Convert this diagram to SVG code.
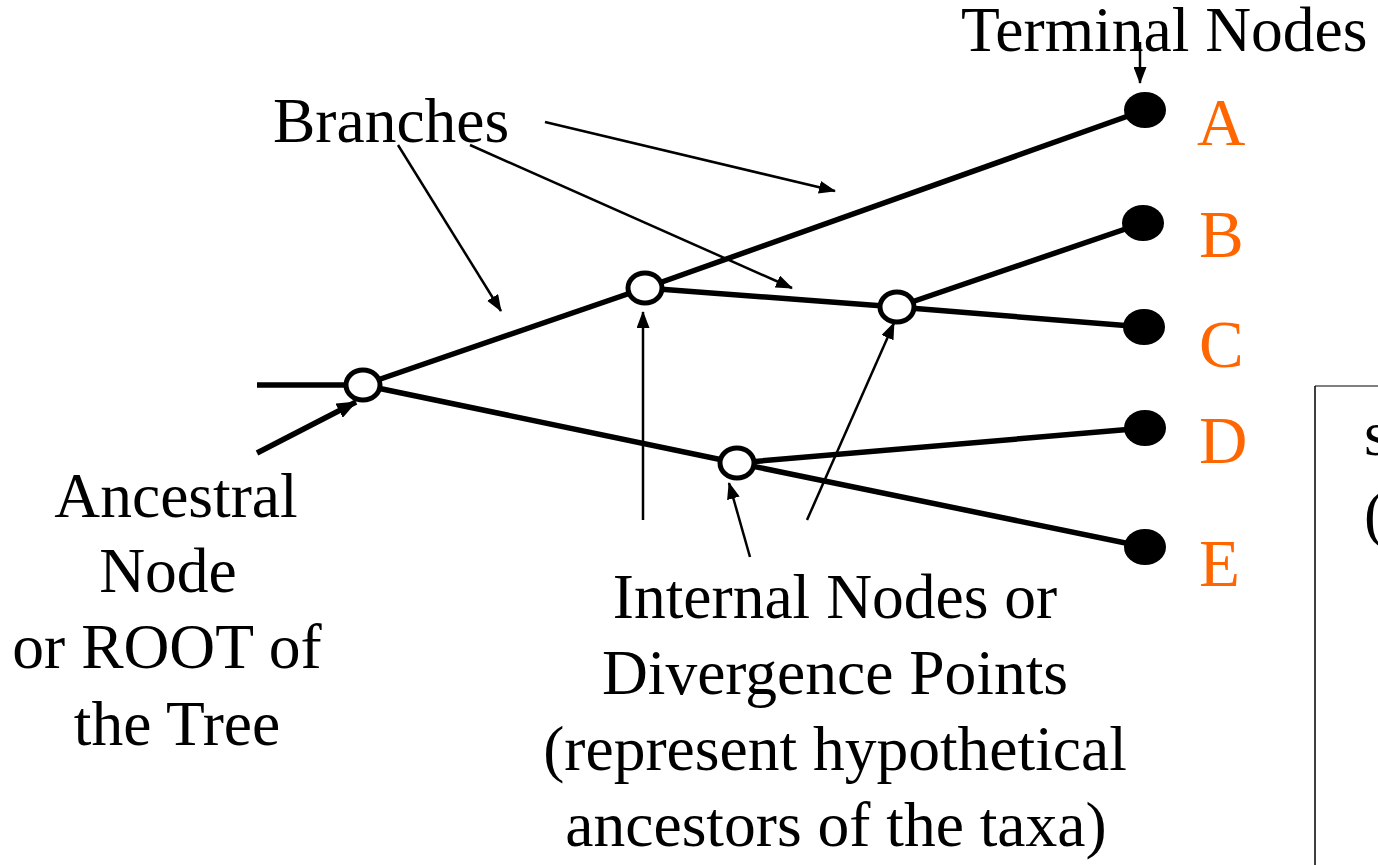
<svg xmlns="http://www.w3.org/2000/svg" width="1378" height="865" viewBox="0 0 1378 865">
<defs>
<style>
text{font-family:"Liberation Serif","Times New Roman",serif;font-size:63.5px;fill:#000}
.lbl{fill:#FF6600;font-size:67px}
.br{stroke:#000;stroke-width:5.5;fill:none;stroke-linecap:butt}
.th{stroke:#000;stroke-width:2.5;fill:none}
.open{fill:#fff;stroke:#000;stroke-width:5}
.term{fill:#000}
</style>
<marker id="ah" viewBox="0 0 17 13" refX="16" refY="6.5" markerWidth="17" markerHeight="13" markerUnits="userSpaceOnUse" orient="auto">
<path d="M0,0 L17,6.5 L0,13 Z" fill="#000"/>
</marker>
<marker id="ahb" viewBox="0 0 20 16" refX="19" refY="8" markerWidth="20" markerHeight="16" markerUnits="userSpaceOnUse" orient="auto">
<path d="M0,0 L20,8 L0,16 Z" fill="#000"/>
</marker>
</defs>
<rect width="1378" height="865" fill="#fff"/>

<g id="side-box">
<line x1="1315" y1="386" x2="1378" y2="386" stroke="#808080" stroke-width="2"/>
<line x1="1315" y1="386" x2="1315" y2="865" stroke="#000" stroke-width="1.5"/>
<text x="1364" y="455">s</text>
<text x="1364" y="535">(</text>
</g>

<g id="connectors">
<line class="br" x1="257" y1="385" x2="363" y2="385"/>
<line class="br" x1="363" y1="385" x2="645" y2="288"/>
<line class="br" x1="645" y1="288" x2="1145" y2="110"/>
<line class="br" x1="645" y1="288" x2="897" y2="307"/>
<line class="br" x1="897" y1="307" x2="1143" y2="223"/>
<line class="br" x1="897" y1="307" x2="1144" y2="327"/>
<line class="br" x1="363" y1="385" x2="737" y2="463"/>
<line class="br" x1="737" y1="463" x2="1145" y2="428"/>
<line class="br" x1="737" y1="463" x2="1145" y2="547"/>
<line class="th" x1="545" y1="122" x2="835" y2="191" marker-end="url(#ah)"/>
<line class="th" x1="470" y1="145" x2="792" y2="288" marker-end="url(#ah)"/>
<line class="th" x1="398" y1="145" x2="501" y2="311" marker-end="url(#ah)"/>
<line class="th" x1="1140" y1="42" x2="1140" y2="83" marker-end="url(#ah)"/>
<line class="br" x1="257" y1="453" x2="356" y2="402" marker-end="url(#ahb)"/>
<line class="th" x1="643" y1="520" x2="643" y2="312" marker-end="url(#ah)"/>
<line class="th" x1="750" y1="557" x2="729" y2="483" marker-end="url(#ah)"/>
<line class="th" x1="807" y1="520" x2="894" y2="323" marker-end="url(#ah)"/>
</g>

<g id="root"><ellipse class="open" cx="363" cy="385" rx="17" ry="15"/></g>
<g id="node1"><ellipse class="open" cx="645" cy="288" rx="17" ry="15"/></g>
<g id="node2"><ellipse class="open" cx="897" cy="307" rx="17" ry="15"/></g>
<g id="node3"><ellipse class="open" cx="737" cy="463" rx="17" ry="15"/></g>

<g id="taxon-A"><ellipse class="term" cx="1145" cy="110" rx="21" ry="18"/><text class="lbl" x="1197" y="145">A</text></g>
<g id="taxon-B"><ellipse class="term" cx="1143" cy="223" rx="21" ry="18"/><text class="lbl" x="1199" y="257">B</text></g>
<g id="taxon-C"><ellipse class="term" cx="1144" cy="327" rx="21" ry="18"/><text class="lbl" x="1199" y="367">C</text></g>
<g id="taxon-D"><ellipse class="term" cx="1145" cy="428" rx="21" ry="18"/><text class="lbl" x="1199" y="463">D</text></g>
<g id="taxon-E"><ellipse class="term" cx="1145" cy="547" rx="21" ry="18"/><text class="lbl" x="1199" y="586">E</text></g>

<g id="label-terminal"><text x="961" y="51">Terminal Nodes</text></g>
<g id="label-branches"><text x="273" y="142">Branches</text></g>
<g id="label-ancestral">
<text x="176" y="517" text-anchor="middle">Ancestral</text>
<text x="168" y="592" text-anchor="middle">Node</text>
<text x="167" y="668" text-anchor="middle">or ROOT of</text>
<text x="177" y="745" text-anchor="middle">the Tree</text>
</g>
<g id="label-internal">
<text x="835" y="618" text-anchor="middle">Internal Nodes or</text>
<text x="835" y="694" text-anchor="middle">Divergence Points</text>
<text x="835" y="770" text-anchor="middle">(represent hypothetical</text>
<text x="836" y="846" text-anchor="middle">ancestors of the taxa)</text>
</g>
</svg>
